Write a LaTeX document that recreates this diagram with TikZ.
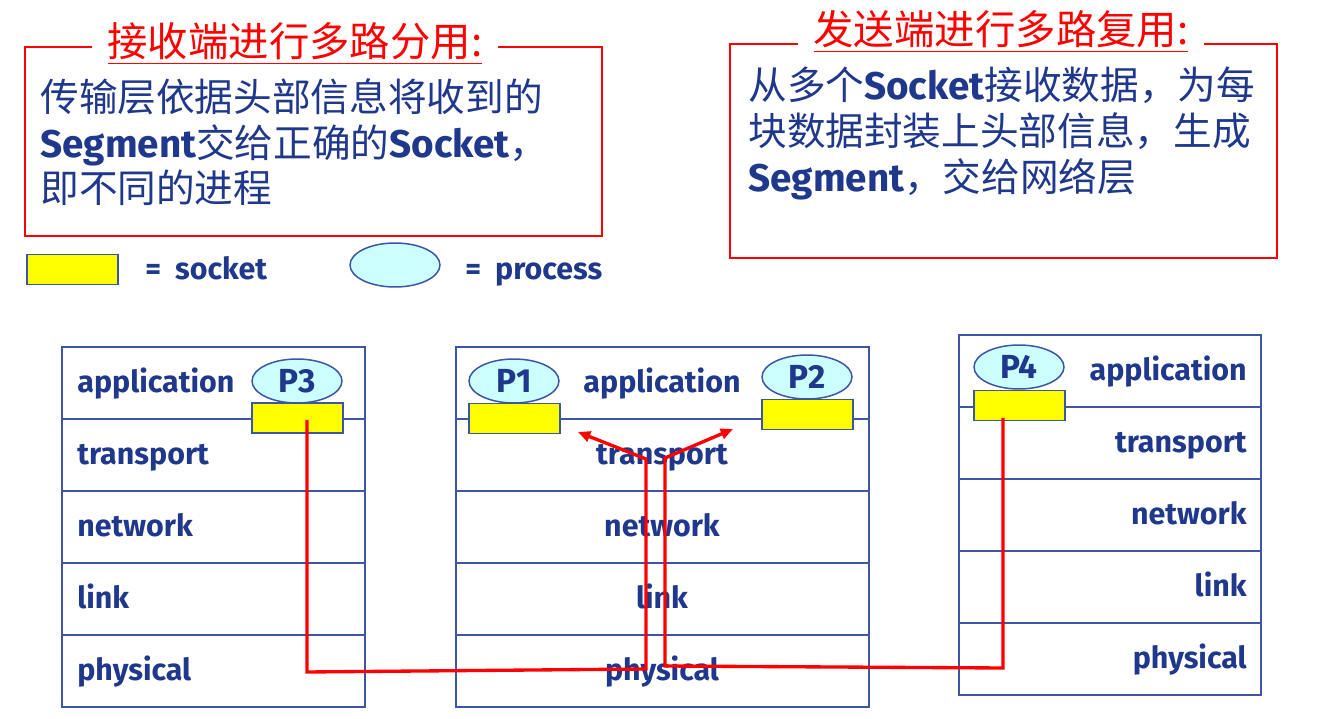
\documentclass[tikz,border=0pt]{standalone}
\usepackage{fontspec}
\setmainfont{Fira Sans}
\newfontfamily\cjk{Noto Sans CJK SC}
\newfontfamily\lat{Fira Sans}
\newcommand\latb[1]{{\lat\bfseries #1}}
\usetikzlibrary{arrows.meta,fit,shapes.geometric}
\definecolor{txtblue}{RGB}{31,56,140}
\definecolor{lineblue}{RGB}{60,85,165}
\definecolor{sockyellow}{RGB}{255,255,0}
\definecolor{proccyan}{RGB}{204,255,255}
\definecolor{myred}{RGB}{255,0,0}
\begin{document}
\begin{tikzpicture}[x=0.02cm,y=-0.02cm,
  layer/.style={draw=lineblue, line width=0.85pt, inner sep=0pt},
  lbl/.style={text=txtblue, font=\fontsize{17.3}{20}\selectfont\bfseries, inner sep=0pt},
  sock/.style={draw=lineblue, fill=sockyellow, line width=0.85pt, inner sep=0pt, minimum width=1.82cm, minimum height=0.6cm},
  proc/.style={ellipse, draw=lineblue, fill=proccyan, line width=0.85pt, minimum width=1.8cm, minimum height=0.88cm, inner sep=0pt, text=txtblue, font=\fontsize{19}{22}\selectfont\bfseries},
  infobox/.style={draw=myred, line width=1.5pt, inner sep=0pt},
  titletxt/.style={text=myred, fill=white, font=\fontsize{23}{27}\selectfont\cjk, inner xsep=9pt, inner ysep=2pt},
  body/.style={text=txtblue, font=\fontsize{22}{26}\selectfont\cjk, inner sep=0pt},
  redline/.style={draw=myred, line width=1.9pt},
  redarrow/.style={redline, -{Triangle[length=7pt,width=6pt]}},
]
\useasboundingbox (0,0) rectangle (1320,719);

% ---- info boxes ----
\node[infobox, fit={(25,47)(602,236)}] (recvbox) {};
\node[titletxt, anchor=base] (recvtitle) at (295,57) {\underline{接收端进行多路分用:}};
\node[body, anchor=base west] (r1) at (40,112) {传输层依据头部信息将收到的};
\node[body, anchor=base west] (r2) at (40,158) {\latb{Segment}交给正确的\latb{Socket}，};
\node[body, anchor=base west] (r3) at (40,203) {即不同的进程};

\node[infobox, fit={(730,44)(1277,258)}] (sendbox) {};
\node[titletxt, anchor=base] (sendtitle) at (1001,45) {\underline{发送端进行多路复用:}};
\node[body, anchor=base west] (t1) at (748,100) {从多个\latb{Socket}接收数据，为每};
\node[body, anchor=base west] (t2) at (748,146) {块数据封装上头部信息，生成};
\node[body, anchor=base west] (t3) at (748,192) {\latb{Segment}，交给网络层};

% ---- legend ----
\node[sock] (legsock) at (72.5,269.5) {};
\node[lbl, anchor=base west] (legsocktxt) at (145,280) {=\hspace{8pt}socket};
\node[proc] (legproc) at (395,265) {};
\node[lbl, anchor=base west] (legproctxt) at (465,280) {=\hspace{8pt}process};

% ---- left stack ----
\foreach \n [count=\i from 0] in {app,trans,net,link,phys}
  \node[layer, fit={(62,{347+72*\i})(365,{419+72*\i})}] (A\n) {};
\node[lbl, anchor=base west] (Aappl) at (77,393) {application};
\node[lbl, anchor=base west] (Atransl) at (77,465) {transport};
\node[lbl, anchor=base west] (Anetl) at (77,537) {network};
\node[lbl, anchor=base west] (Alinkl) at (77,609) {link};
\node[lbl, anchor=base west] (Aphysl) at (77,681) {physical};
\node[proc] (p3) at (297,381) {P3};
\node[sock] (s3) at (297.5,418) {};

% ---- middle stack ----
\foreach \n [count=\i from 0] in {app,trans,net,link,phys}
  \node[layer, fit={(456,{347+72*\i})(869,{419+72*\i})}] (B\n) {};
\node[lbl, anchor=base] (Bappl) at (662,393) {application};
\node[lbl, anchor=base] (Btransl) at (662,465) {transport};
\node[lbl, anchor=base] (Bnetl) at (662,537) {network};
\node[lbl, anchor=base] (Blinkl) at (662,609) {link};
\node[lbl, anchor=base] (Bphysl) at (662,681) {physical};
\node[proc] (p1) at (514,381) {P1};
\node[sock] (s1) at (514.5,418.5) {};
\node[proc] (p2) at (807,377) {P2};
\node[sock] (s2) at (807.5,414.5) {};

% ---- right stack ----
\foreach \n [count=\i from 0] in {app,trans,net,link,phys}
  \node[layer, fit={(959,{335+72*\i})(1261,{407+72*\i})}] (C\n) {};
\node[lbl, anchor=base east] (Cappl) at (1247,381) {application};
\node[lbl, anchor=base east] (Ctransl) at (1247,453) {transport};
\node[lbl, anchor=base east] (Cnetl) at (1247,525) {network};
\node[lbl, anchor=base east] (Clinkl) at (1247,597) {link};
\node[lbl, anchor=base east] (Cphysl) at (1247,669) {physical};
\node[proc] (p4) at (1019,367) {P4};
\node[sock] (s4) at (1019.5,405.5) {};

% ---- red paths ----
\coordinate (a0) at (307,420);
\coordinate (a1) at (307,672);
\coordinate (a2) at (646,669);
\coordinate (a3) at (646,459);
\coordinate (a4) at (578,432);
\draw[redarrow] (a0) -- (a1) -- (a2) -- (a3) -- (a4);

\coordinate (b0) at (1003,418);
\coordinate (b1) at (1003,668);
\coordinate (b2) at (665,666);
\coordinate (b3) at (665,458);
\coordinate (b4) at (733,429);
\draw[redarrow] (b0) -- (b1) -- (b2) -- (b3) -- (b4);
\end{tikzpicture}
\end{document}
